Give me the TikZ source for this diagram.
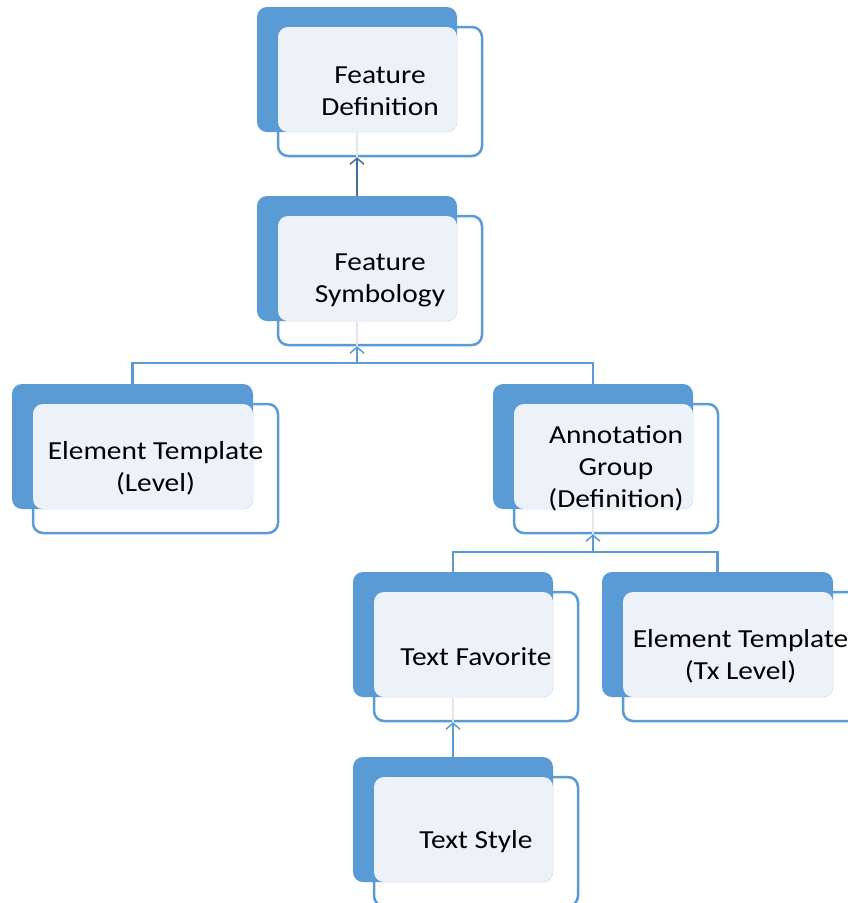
\documentclass[tikz,border=0pt]{standalone}
\usepackage{fontspec}
\setmainfont{Carlito}[FakeStretch=1.13]
\usetikzlibrary{arrows.meta}
\definecolor{darkblue}{HTML}{5B9BD5}
\definecolor{lightfill}{HTML}{EDF2F9}
\definecolor{linkblue}{HTML}{5B9BD5}
\definecolor{topline}{HTML}{41719C}
\definecolor{faint}{HTML}{E2E7EE}
\tikzset{
  darkbox/.style={rectangle, rounded corners=10pt, fill=darkblue, draw=none, inner sep=0pt, minimum height=125pt},
  outlinebox/.style={rectangle, rounded corners=10pt, fill=white, draw=darkblue, line width=2.5pt, inner sep=0pt, minimum height=129pt},
  lightbox/.style={rectangle, rounded corners=10pt, fill=lightfill, draw=none, inner sep=0pt, minimum height=105pt},
  label/.style={align=center, text=black, font=\fontsize{26}{32}\selectfont, inner sep=0pt},
  link/.style={draw=linkblue, line width=2.5pt},
  tip/.style={-{Straight Barb[length=6pt,width=14pt,line width=1.5pt]}},
  stub/.style={draw=faint, line width=2pt},
}
% #1 name, #2 x0, #3 y0, #4 dark width, #5 text
\newcommand{\hitem}[5]{%
  \node[outlinebox, minimum width=#4pt+4pt] (#1O) at (#2+21+#4/2+2, #3+20+64.5) {};
  \node[darkbox, minimum width=#4pt] (#1D) at (#2+#4/2, #3+62.5) {};
  \node[lightbox, minimum width=#4pt-21pt] (#1L) at (#2+21+#4/2-10.5, #3+20+52.5) {};
  \node[label] (#1T) at (#1O.center) {#5};
}
\begin{document}
\begin{tikzpicture}[x=1pt, y=-1pt]
\useasboundingbox (0,0) rectangle (847,903);
\hitem{fd}{257}{7}{200}{Feature\\Definition}
\hitem{fs}{257}{196}{200}{Feature\\Symbology}
\hitem{et}{12}{384}{241}{Element Template\\(Level)}
\hitem{ag}{493}{384}{200}{Annotation\\Group\\(Definition)}
\hitem{tf}{353}{572}{200}{Text Favorite}
\hitem{ex}{602}{572}{231}{Element Template\\(Tx Level)}
\hitem{ts}{353}{757}{200}{Text Style}
% faint stubs
\draw[stub] (fdD.center |- fdL.south) -- (fdD.center |- fdO.south);
\draw[stub] (fsD.center |- fsL.south) -- (fsD.center |- fsO.south);
\draw[stub] (agD.center |- agL.south) -- (agD.center |- agO.south);
\draw[stub] (tfD.center |- tfL.south) -- (tfD.center |- tfO.south);
% connectors
\draw[link, draw=topline, tip] (fsD.north) -- (fdD.center |- fdO.south);
\coordinate (b1) at (357,363);
\draw[link] (etD.north) |- (b1) -| (agD.north);
\draw[link, tip] (b1) -- (fsD.center |- fsO.south);
\coordinate (b2) at (593,552);
\draw[link] (tfD.north) |- (b2) -| (exD.north);
\draw[link, tip] (b2) -- (agD.center |- agO.south);
\draw[link, tip] (tsD.north) -- (tfD.center |- tfO.south);
\end{tikzpicture}
\end{document}
